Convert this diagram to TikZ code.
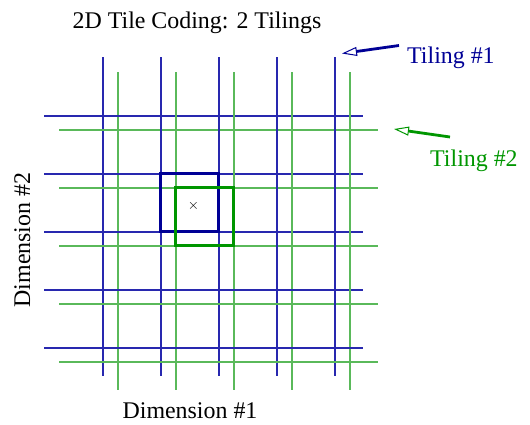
\documentclass[tikz,border=0pt]{standalone}
\usepackage{fontspec}
\setmainfont{Liberation Serif}
\usetikzlibrary{arrows.meta}
\definecolor{tblue}{RGB}{0,0,150}
\definecolor{tgreen}{RGB}{0,150,0}
\definecolor{lblue}{RGB}{40,40,175}
\definecolor{lgreen}{RGB}{90,185,90}
\begin{document}
\begin{tikzpicture}[x=1bp,y=-1bp,
  bgrid/.style={draw=lblue, line width=1.7bp},
  ggrid/.style={draw=lgreen, line width=2bp},
  bsq/.style={draw=tblue, line width=2.6bp},
  gsq/.style={draw=tgreen, line width=2.6bp},
  lbl/.style={font=\fontsize{24}{28}\selectfont, inner sep=0pt},
  ptr/.style={line width=2.8bp, -{Triangle[open, length=15bp, width=9bp, line width=1bp]}}]
\useasboundingbox (0,0) rectangle (530,424);
\foreach \i in {0,...,4} {
  \draw[bgrid] (103+58*\i,57) -- (103+58*\i,376);
  \draw[ggrid] (118+58*\i,72) -- (118+58*\i,390);
  \draw[bgrid] (44,116+58*\i) -- (363,116+58*\i);
  \draw[ggrid] (59,130+58*\i) -- (378,130+58*\i);
}
\draw[bsq] (160.5,173.5) rectangle (218.5,231.5);
\draw[gsq] (175.5,187.5) rectangle (233.5,245.5);
\node[font=\fontsize{14}{16}\selectfont, inner sep=0pt] (pt) at (193.5,206) {$\times$};
\node[lbl, anchor=base] (title) at (197,28) {2D Tile Coding: 2 Tilings};
\node[lbl, anchor=base west, text=tblue] (t1) at (407,63) {Tiling \#1};
\node[lbl, anchor=base west, text=tgreen] (t2) at (430,166) {Tiling \#2};
\node[lbl, anchor=base] (d1) at (190,418) {Dimension \#1};
\node[lbl, anchor=base, rotate=90] (d2) at (30,240) {Dimension \#2};
\coordinate (a1s) at (399,45.5);
\coordinate (a1e) at (342,53.5);
\coordinate (a2s) at (450,137);
\coordinate (a2e) at (394,129);
\draw[ptr, draw=tblue] (a1s) -- (a1e);
\draw[ptr, draw=tgreen] (a2s) -- (a2e);
\end{tikzpicture}
\end{document}
